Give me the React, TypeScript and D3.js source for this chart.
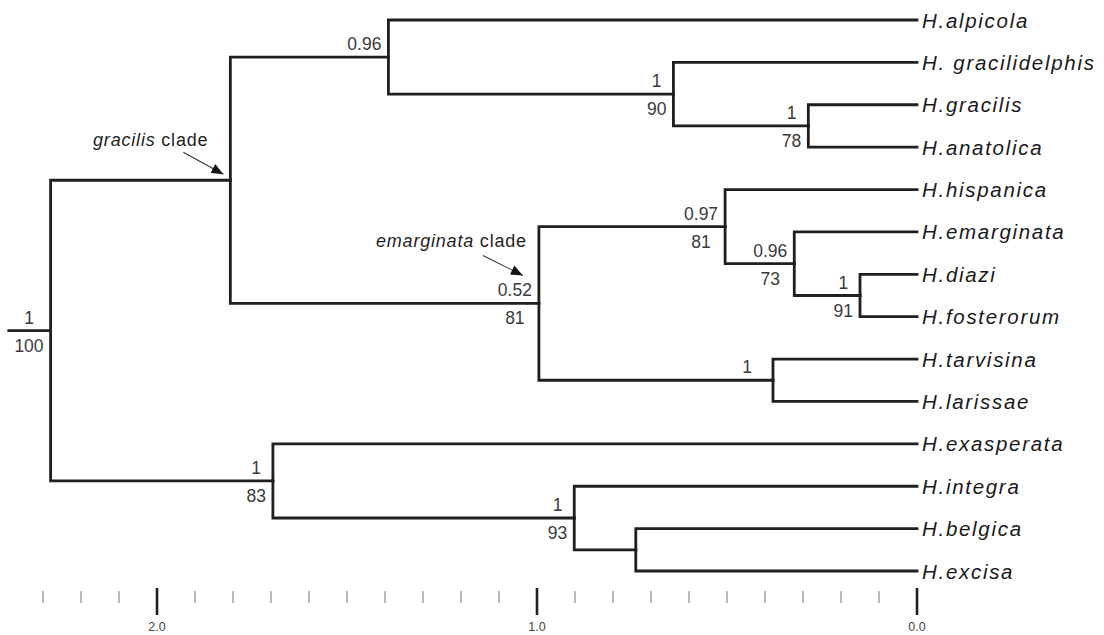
import React from "react";
import * as d3 from "d3";

// ---- data ----
const tips = [
  "H.alpicola",
  "H. gracilidelphis",
  "H.gracilis",
  "H.anatolica",
  "H.hispanica",
  "H.emarginata",
  "H.diazi",
  "H.fosterorum",
  "H.tarvisina",
  "H.larissae",
  "H.exasperata",
  "H.integra",
  "H.belgica",
  "H.excisa",
];

// internal nodes: id, children, age (time units), posterior, bootstrap
const nodeIds = ["root", "gracEm", "alp", "gdel", "grac", "em", "hisp", "emn", "diaz", "tarv", "exasp", "integ", "belg"];
const nodeChildren: Record<string, string[]> = {
  root: ["gracEm", "exasp"],
  gracEm: ["alp", "em"],
  alp: ["H.alpicola", "gdel"],
  gdel: ["H. gracilidelphis", "grac"],
  grac: ["H.gracilis", "H.anatolica"],
  em: ["hisp", "tarv"],
  hisp: ["H.hispanica", "emn"],
  emn: ["H.emarginata", "diaz"],
  diaz: ["H.diazi", "H.fosterorum"],
  tarv: ["H.tarvisina", "H.larissae"],
  exasp: ["H.exasperata", "integ"],
  integ: ["H.integra", "belg"],
  belg: ["H.belgica", "H.excisa"],
};
const nodeAges = [2.28, 1.807, 1.391, 0.641, 0.286, 0.995, 0.505, 0.323, 0.15, 0.379, 1.695, 0.902, 0.74];
const nodePosterior = ["1", "", "0.96", "1", "1", "0.52", "0.97", "0.96", "1", "1", "1", "1", ""];
const nodeBootstrap = ["100", "", "", "90", "78", "81", "81", "73", "91", "", "83", "93", ""];
const rootStemAge = 2.39;

const axisTicks = d3.range(0, 24).map((i) => i / 10);
const axisMajor = [0, 1, 2];

const cladeLabels = [
  { node: "gracEm", italic: "gracilis", rest: " clade" },
  { node: "em", italic: "emarginata", rest: " clade" },
];

// ---- component ----
export default function App() {
  const W = 1104;
  const H = 635;
  const x = d3.scaleLinear().domain([0, 2]).range([917, 157]);
  const yTip = d3.scalePoint<string>().domain(tips).range([20, 571]);

  const ageOf: Record<string, number> = {};
  const pp: Record<string, string> = {};
  const bs: Record<string, string> = {};
  nodeIds.forEach((id, i) => {
    ageOf[id] = nodeAges[i];
    pp[id] = nodePosterior[i];
    bs[id] = nodeBootstrap[i];
  });
  tips.forEach((t) => (ageOf[t] = 0));

  const build = (id: string): any => ({
    id,
    children: nodeChildren[id] ? nodeChildren[id].map(build) : undefined,
  });
  const root = d3.hierarchy(build("root"));
  const pos: Record<string, { x: number; y: number }> = {};
  root.eachAfter((n: any) => {
    const id = n.data.id;
    let y: number;
    if (!n.children) y = yTip(id) as number;
    else y = d3.mean(n.children, (c: any) => pos[c.data.id].y) as number;
    pos[id] = { x: x(ageOf[id]), y };
  });

  const lineColor = "#1f1f1f";
  const textColor = "#3a3a3a";
  const supFs = 17.5;
  const textWidth = (s: string) =>
    s.split("").reduce((a, ch) => a + (ch === "." ? 0.278 : 0.556), 0) * supFs;

  const branches: string[] = [];
  root.each((n: any) => {
    if (!n.parent) return;
    const p = pos[n.parent.data.id];
    const c = pos[n.data.id];
    branches.push(`M${p.x},${p.y}V${c.y}H${c.x}`);
  });
  const rp = pos["root"];
  branches.push(`M${x(rootStemAge)},${rp.y}H${rp.x}`);

  const fontTip = "'Liberation Sans', Arial, sans-serif";

  return (
    <div style={{ position: "absolute", left: 0, top: 0 }}>
      <svg width={W} height={H} style={{ display: "block", background: "#fff" }}>
        <defs>
          <marker id="ah" viewBox="0 0 12 10" refX="12" refY="5" markerWidth="12" markerHeight="10" markerUnits="userSpaceOnUse" orient="auto">
            <path d="M0,0L12,5L0,10Z" fill="#111" />
          </marker>
        </defs>
        {/* branches */}
        <g fill="none" stroke={lineColor} strokeWidth={2.8} strokeLinejoin="miter" strokeLinecap="square">
          {branches.map((d, i) => (
            <path key={i} d={d} />
          ))}
        </g>
        {/* tip labels */}
        <g fontFamily={fontTip} fontStyle="italic" fontSize={20.5} fill="#1a1a1a" letterSpacing={1.7}>
          {tips.map((t) => (
            <text key={t} x={pos[t].x + 5} y={pos[t].y + 7.5}>
              {t}
            </text>
          ))}
        </g>
        {/* support values */}
        <g fontFamily={fontTip} fontSize={supFs} fill={textColor} textAnchor="middle">
          {nodeIds.map((id) => {
            const a = pp[id];
            const b = bs[id];
            if (!a && !b) return null;
            const w = Math.max(a ? textWidth(a) : 0, b ? textWidth(b) : 0);
            const single = !b;
            const cx = pos[id].x - 7 - w / 2 - (single && a === "1" ? 14 : 0);
            const cy = pos[id].y;
            return (
              <g key={id}>
                {a && (
                  <text x={cx} y={cy - 7}>
                    {a}
                  </text>
                )}
                {b && (
                  <text x={cx} y={cy + 21}>
                    {b}
                  </text>
                )}
              </g>
            );
          })}
        </g>
        {/* clade annotations */}
        {cladeLabels.map((c, i) => {
          const p = pos[c.node];
          const tx = i === 0 ? p.x - 22 : p.x - 12;
          const ty = i === 0 ? p.y - 34 : p.y - 56;
          const a0 = i === 0 ? [p.x - 47, p.y - 28] : [p.x - 56, p.y - 48];
          const a1 = i === 0 ? [p.x - 7, p.y - 6] : [p.x - 16, p.y - 28];
          return (
            <g key={c.node}>
              <text x={tx} y={ty} textAnchor="end" fontFamily={fontTip} fontSize={18} fill="#1f1f1f" letterSpacing={0.8}>
                <tspan fontStyle="italic">{c.italic}</tspan>
                <tspan>{c.rest}</tspan>
              </text>
              <line x1={a0[0]} y1={a0[1]} x2={a1[0]} y2={a1[1]} stroke="#333" strokeWidth={1.1} markerEnd="url(#ah)" />
            </g>
          );
        })}
        {/* time axis */}
        <g>
          {axisTicks.map((t) => {
            const major = axisMajor.some((m) => Math.abs(m - t) < 1e-9);
            return (
              <line
                key={t}
                x1={x(t)}
                x2={x(t)}
                y1={major ? 588 : 591}
                y2={major ? 615 : 603}
                stroke={major ? "#222" : "#777"}
                strokeWidth={major ? 2.6 : 1}
              />
            );
          })}
          {axisMajor.map((m) => (
            <text key={m} x={x(m)} y={631} textAnchor="middle" fontFamily={fontTip} fontSize={12.5} fill="#444">
              {d3.format(".1f")(m)}
            </text>
          ))}
        </g>
      </svg>
    </div>
  );
}
